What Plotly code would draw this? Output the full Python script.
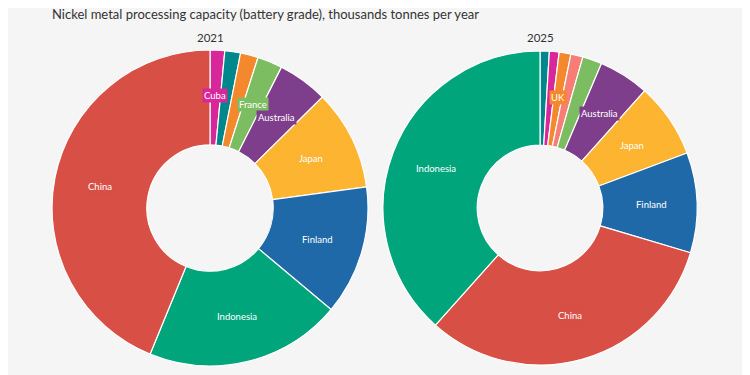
import math
import plotly.graph_objects as go

# ---- data (thousands tonnes per year) ----
countries_2021 = ["China", "Indonesia", "Finland", "Japan", "Australia", "France", "UK", "Norway", "Cuba"]
values_2021 = [205, 94, 62, 48, 24, 12, 8.5, 7.5, 7]
shown_2021 = ["China", "Indonesia", "Finland", "Japan", "Australia", "France", "Cuba"]

countries_2025 = ["Indonesia", "China", "Finland", "Japan", "Australia", "France", "South Korea", "UK", "Cuba", "Norway"]
values_2025 = [384, 320, 103, 77, 52, 20, 12.5, 12, 10, 9.5]
shown_2025 = ["Indonesia", "China", "Finland", "Japan", "Australia", "UK"]

years = ["2021", "2025"]

colours = {
    "China": "#d84f45",
    "Indonesia": "#00a57c",
    "Finland": "#1f69a8",
    "Japan": "#fcb431",
    "Australia": "#7f3e8c",
    "France": "#7dbd62",
    "UK": "#f4882c",
    "Norway": "#00878c",
    "Cuba": "#d8279a",
    "South Korea": "#f77d77",
}

subtitle = "Nickel metal processing capacity (battery grade), thousands tonnes per year"
bg = "#f5f5f5"
font_family = "Lato"

W, H = 750, 375
HOLE = 0.4
LABEL_R = 0.71  # label radius as fraction of outer radius (mid-ring)
domains = [
    dict(x=[0.0587, 0.48], y=[0.0453, 0.888]),
    dict(x=[0.5, 0.9187], y=[0.0453, 0.888]),
]

fig = go.Figure()
annotations = []

for (countries, values, shown), year, dom in zip(
    [(countries_2021, values_2021, shown_2021), (countries_2025, values_2025, shown_2025)], years, domains
):
    # smallest first, drawn clockwise from 12 o'clock -> largest ends at 12 o'clock
    cs = countries[::-1]
    vs = values[::-1]
    fig.add_trace(
        go.Pie(
            labels=cs,
            values=vs,
            textinfo="none",
            marker=dict(colors=[colours[c] for c in cs], line=dict(color="white", width=1.2)),
            hole=HOLE,
            sort=False,
            direction="clockwise",
            rotation=0,
            domain=dom,
            showlegend=False,
            hovertemplate="%{label}: %{value}<extra></extra>",
        )
    )
    # geometry of this pie in paper units, as plotly lays it out
    cx = sum(dom["x"]) / 2
    cy = sum(dom["y"]) / 2
    R = min((dom["x"][1] - dom["x"][0]) * W, (dom["y"][1] - dom["y"][0]) * H) / 2
    total = sum(vs)
    cum = 0.0
    for c, v in zip(cs, vs):
        theta = 2 * math.pi * (cum + v / 2) / total
        cum += v
        if c not in shown:
            continue
        r = LABEL_R * R
        annotations.append(
            dict(
                x=cx + r * math.sin(theta) / W,
                y=cy + r * math.cos(theta) / H,
                xref="paper",
                yref="paper",
                text=c,
                showarrow=False,
                xanchor="center",
                yanchor="middle",
                bgcolor=colours[c],
                borderpad=1,
                font=dict(family=font_family, size=9.5, color="white"),
            )
        )
    # year label above the pie
    annotations.append(
        dict(
            x=cx,
            y=1 - 29 / H,
            xref="paper",
            yref="paper",
            text=year,
            showarrow=False,
            xanchor="center",
            yanchor="middle",
            font=dict(family=font_family, size=11.5, color="#333333"),
        )
    )

fig.update_layout(
    width=W,
    height=H,
    margin=dict(l=0, r=0, t=0, b=0),
    paper_bgcolor=bg,
    plot_bgcolor=bg,
    title=dict(
        text=subtitle,
        x=44 / W,
        xanchor="left",
        y=0.982,
        yanchor="middle",
        font=dict(family=font_family, size=13, color="#333333"),
    ),
    annotations=annotations,
)

fig.write_html("out.html")
